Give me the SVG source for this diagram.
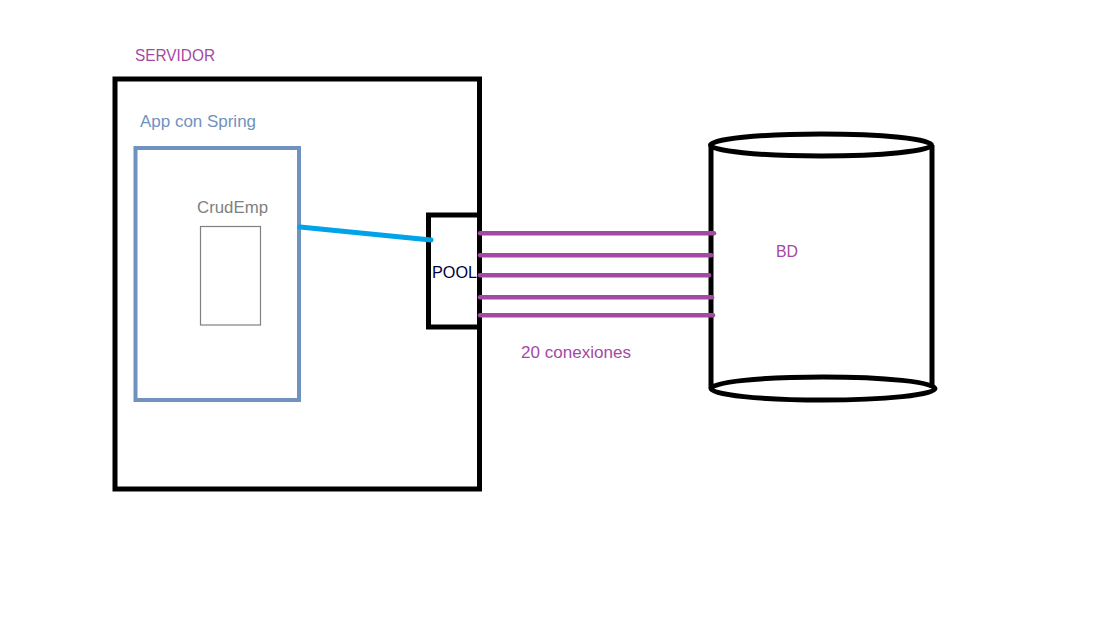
<svg xmlns="http://www.w3.org/2000/svg" width="1106" height="628" viewBox="0 0 1106 628">
<style>
text{font-family:"Liberation Sans",Arial,sans-serif;font-size:16.5px}
.purple{fill:#a349a4}
.conn{stroke:#a349a4;stroke-width:4.5;stroke-linecap:round}
.blk{fill:none;stroke:#000;stroke-width:5}
</style>
<rect width="1106" height="628" fill="#fff"/>
<g id="servidor">
<rect class="blk" x="115" y="79" width="364.5" height="410"/>
<text class="purple" x="135" y="61" textLength="80" lengthAdjust="spacingAndGlyphs">SERVIDOR</text>
</g>
<g id="app">
<rect x="135.5" y="148" width="163.5" height="252" fill="none" stroke="#7092be" stroke-width="4"/>
<text x="140" y="127" fill="#7092be" textLength="116" lengthAdjust="spacingAndGlyphs">App con Spring</text>
</g>
<g id="crudemp">
<rect x="200.5" y="226.5" width="60" height="98.5" fill="none" stroke="#808080" stroke-width="1.2"/>
<text x="197" y="213" fill="#808080" textLength="71" lengthAdjust="spacingAndGlyphs">CrudEmp</text>
</g>
<g id="pool">
<rect class="blk" x="428.5" y="215" width="51" height="112"/>
<text x="432" y="278" fill="#000040" textLength="45" lengthAdjust="spacingAndGlyphs">POOL</text>
</g>
<g id="bd">
<line x1="711" y1="145" x2="711" y2="388" stroke="#000" stroke-width="5"/>
<line x1="932" y1="145" x2="932" y2="388" stroke="#000" stroke-width="5"/>
<ellipse class="blk" cx="821" cy="145" rx="110.5" ry="11"/>
<ellipse class="blk" cx="823" cy="388.5" rx="112" ry="11.5"/>
<text class="purple" x="776" y="257" textLength="22" lengthAdjust="spacingAndGlyphs">BD</text>
</g>
<g id="connectors">
<line x1="300" y1="227" x2="431" y2="240" stroke="#00a2e8" stroke-width="5" stroke-linecap="round"/>
<line class="conn" x1="480" y1="233.3" x2="714" y2="233.3"/>
<line class="conn" x1="480" y1="255.3" x2="711" y2="255.3"/>
<line class="conn" x1="480" y1="275.3" x2="709" y2="275.3"/>
<line class="conn" x1="480" y1="297.3" x2="712" y2="297.3"/>
<line class="conn" x1="480" y1="315.3" x2="713" y2="315.3"/>
<text class="purple" x="521" y="358" textLength="110" lengthAdjust="spacingAndGlyphs">20 conexiones</text>
</g>
</svg>
